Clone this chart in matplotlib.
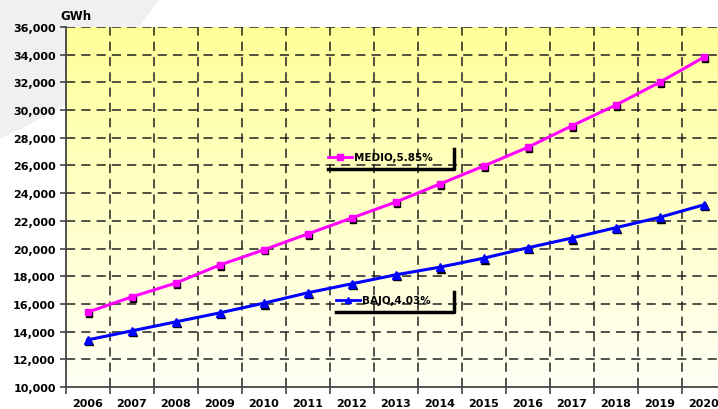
import matplotlib
matplotlib.use("Agg")
import matplotlib.pyplot as plt
import matplotlib.transforms as mtransforms
from matplotlib.lines import Line2D
from matplotlib.patches import Polygon
import numpy as np

years = list(range(2006, 2021))
medio = [15400, 16500, 17500, 18800, 19900, 21050, 22200, 23350, 24650,
         25950, 27300, 28850, 30350, 32000, 33800]
bajo = [13400, 14050, 14700, 15350, 16050, 16800, 17450, 18100, 18650,
        19300, 20050, 20750, 21500, 22250, 23150]
y_ticks = list(range(10000, 36001, 2000))

W, H = 718, 410
fig = plt.figure(figsize=(W / 100, H / 100), dpi=100)
plt.rcParams['font.family'] = ['DejaVu Sans']


def fx(px):
    return px / W


def fy(py):
    return 1 - py / H


# faint watermark swoosh in the background
fig.patches.append(Polygon([[fx(0), fy(0)], [fx(160), fy(0)], [fx(130), fy(40)],
                            [fx(60), fy(110)], [fx(0), fy(140)]],
                           closed=True, transform=fig.transFigure,
                           facecolor="#f0f0f0", edgecolor="none", zorder=-5))

ax = fig.add_axes([fx(65.5), fy(388), 660 / W, 360 / H])
ax.set_zorder(1)
ax.set_xlim(-0.5, len(years) - 0.5)
ax.set_ylim(10000, 36000)

# yellow gradient background
grad = np.linspace(0, 1, 256).reshape(-1, 1)
cmap = matplotlib.colors.LinearSegmentedColormap.from_list("bg", ["#fffff6", "#ffff99"])
ax.imshow(grad, aspect="auto", cmap=cmap, origin="lower",
          extent=[-0.5, len(years) - 0.5, 10000, 36000], zorder=0)

# grid
for yv in y_ticks[1:]:
    ax.axhline(yv, color="#222222", lw=1.1, dashes=(6, 4), zorder=1)
for i in range(len(years)):
    ax.axvline(i + 0.5, color="#222222", lw=1.1, dashes=(6, 4), zorder=1)

x = np.arange(len(years))
shadow = mtransforms.offset_copy(ax.transData, fig=fig, x=1.5, y=-1.5, units="dots")
ax.plot(x, medio, ls="none", marker="s", ms=4.5, color="black", transform=shadow, zorder=3)
ax.plot(x, bajo, ls="none", marker="^", ms=5.5, color="black", transform=shadow, zorder=3)
ax.plot(x, medio, color="#ff00ff", lw=2.2, marker="s", ms=4.5, zorder=4)
ax.plot(x, bajo, color="#0000ff", lw=2.2, marker="^", ms=5.5, zorder=4)

for s in ["top", "right"]:
    ax.spines[s].set_visible(False)
ax.spines["left"].set_color("#444444")
ax.spines["bottom"].set_color("#444444")
ax.spines["left"].set_linewidth(1.3)
ax.spines["bottom"].set_linewidth(1.3)

ax.set_yticks(y_ticks)
ax.set_yticklabels([f"{v:,}" for v in y_ticks], fontsize=8, fontweight="bold")
ax.set_xticks(x)
ax.set_xticklabels([str(y) for y in years], fontsize=8, fontweight="bold")
ax.set_xticks(np.arange(-0.5, len(years), 1), minor=True)
ax.tick_params(axis="x", which="major", length=0, pad=8)
ax.tick_params(axis="x", which="minor", length=5, color="#444444", width=1.2)
ax.tick_params(axis="y", length=4, color="#444444", width=1.2, pad=3)

fig.text(fx(60), fy(17), "GWh", fontsize=8.5, fontweight="bold", va="center", ha="left")


# series labels with a dark drop-shadow frame
def series_label(x0, y0, x1, color, marker, ms, label):
    tf = fig.transFigure
    fig.lines.append(Line2D([fx(x0), fx(x0 + 12), fx(x0 + 24)], [fy(y0)] * 3, color=color,
                            lw=2, marker=marker, markevery=[1], ms=ms, transform=tf, zorder=5))
    fig.text(fx(x0 + 26), fy(y0), label, fontsize=7.5, fontweight="bold", va="center", ha="left",
             zorder=5)
    fig.lines.append(Line2D([fx(x0), fx(x1), fx(x1)], [fy(y0 + 12), fy(y0 + 12), fy(y0 - 8)],
                            color="black", lw=2.5, transform=tf, zorder=5))


series_label(328, 158, 454, "#ff00ff", "s", 4, "MEDIO,5.85%")
series_label(336, 301, 454, "#0000ff", "^", 5, "BAJO,4.03%")

fig.savefig("out.png", dpi=100)
